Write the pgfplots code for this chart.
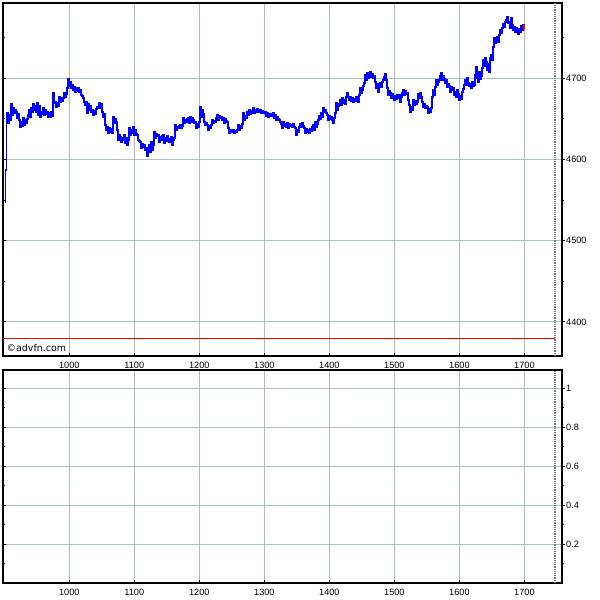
\documentclass[border=0pt]{standalone}
\usepackage{fontspec}
\setmainfont{Liberation Sans}
\newfontfamily\dejavu{DejaVu Sans}
\usepackage{pgfplots}
\usepackage{pgfplotstable}
\pgfplotsset{compat=1.18}
\definecolor{gridc}{RGB}{170,192,192}
\definecolor{nowc}{RGB}{105,120,120}

\pgfplotstableread{
x y
901.1 4547.4
901.9 4586.8
903.4 4648.3
904.2 4656.9
905.7 4644.6
907.2 4654.5
908.8 4648.3
910.3 4668.0
911.9 4654.5
913.4 4663.1
915.0 4656.9
916.5 4660.6
918.0 4658.2
919.6 4650.8
921.1 4655.7
922.6 4648.3
924.2 4639.7
925.7 4645.9
927.3 4640.9
928.8 4650.8
930.4 4642.2
931.9 4648.3
933.4 4644.6
935.0 4649.6
936.5 4654.5
938.0 4660.6
939.5 4652.0
941.0 4663.1
942.6 4658.2
944.1 4668.0
945.7 4660.6
947.2 4665.5
948.7 4658.2
950.3 4669.2
951.8 4654.5
953.3 4665.5
954.9 4652.0
956.4 4655.7
958.0 4658.2
959.5 4663.1
961.1 4654.5
962.6 4660.6
964.1 4655.7
965.7 4658.2
967.2 4652.0
968.7 4656.9
970.3 4652.0
971.8 4658.2
973.4 4653.2
974.9 4681.5
976.5 4669.2
978.0 4670.5
979.5 4664.3
981.1 4669.2
982.6 4665.5
984.1 4676.6
985.7 4670.5
987.2 4675.4
988.8 4671.7
990.3 4675.4
991.9 4681.5
993.4 4676.6
994.9 4680.3
996.5 4687.7
998.0 4698.8
999.5 4690.1
1001.1 4695.1
1002.6 4687.7
1004.2 4691.4
1005.7 4685.2
1007.3 4688.9
1008.8 4682.8
1010.3 4687.7
1011.9 4684.0
1013.4 4687.7
1014.9 4682.8
1016.4 4685.2
1017.9 4679.1
1019.5 4677.8
1021.0 4675.4
1022.6 4670.5
1024.1 4666.8
1025.6 4670.5
1027.2 4656.9
1028.7 4668.0
1030.2 4660.6
1031.8 4665.5
1033.3 4658.2
1034.9 4660.6
1036.4 4654.5
1038.0 4659.4
1039.5 4655.7
1041.0 4661.9
1042.6 4664.3
1044.1 4663.1
1045.6 4669.2
1047.2 4663.1
1048.7 4668.0
1050.3 4658.2
1051.8 4652.0
1053.4 4655.7
1054.9 4642.2
1056.4 4636.0
1058.0 4639.7
1059.5 4632.3
1061.0 4638.5
1062.6 4633.6
1064.1 4637.3
1065.7 4632.3
1067.2 4652.0
1068.8 4644.6
1070.3 4649.6
1071.8 4645.9
1073.4 4636.0
1074.9 4623.7
1076.4 4629.9
1078.0 4627.4
1079.5 4621.3
1081.1 4626.2
1082.6 4623.7
1084.2 4629.9
1085.7 4620.0
1087.2 4626.2
1088.8 4617.6
1090.3 4623.7
1091.8 4638.5
1093.3 4629.9
1094.8 4636.0
1096.4 4632.3
1097.9 4639.7
1099.5 4629.9
1101.0 4636.0
1102.5 4631.1
1104.1 4629.9
1105.6 4623.7
1107.1 4622.5
1108.7 4621.3
1110.2 4613.9
1111.8 4618.8
1113.3 4615.1
1114.9 4617.6
1116.4 4611.4
1117.9 4613.9
1119.5 4604.1
1121.0 4611.4
1122.5 4617.6
1124.1 4609.0
1125.6 4621.3
1127.2 4611.4
1128.7 4617.6
1130.3 4633.6
1131.8 4626.2
1133.3 4631.1
1134.9 4628.6
1136.4 4629.9
1137.9 4621.3
1139.5 4627.4
1141.0 4623.7
1142.6 4628.6
1144.1 4629.9
1145.7 4620.0
1147.2 4626.2
1148.7 4622.5
1150.3 4628.6
1151.8 4623.7
1153.3 4621.3
1154.9 4625.0
1156.4 4627.4
1158.0 4617.6
1159.5 4623.7
1161.1 4626.2
1162.6 4642.2
1164.1 4636.0
1165.7 4639.7
1167.2 4638.5
1168.7 4640.9
1170.2 4642.2
1171.7 4638.5
1173.3 4640.9
1174.8 4650.8
1176.4 4644.6
1177.9 4648.3
1179.4 4645.9
1181.0 4649.6
1182.5 4650.8
1184.1 4644.6
1185.6 4652.0
1187.1 4645.9
1188.7 4650.8
1190.2 4648.3
1191.8 4644.6
1193.3 4645.9
1194.8 4638.5
1196.4 4643.4
1197.9 4639.7
1199.5 4645.9
1201.0 4664.3
1202.5 4652.0
1204.1 4660.6
1205.6 4655.7
1207.2 4645.9
1208.7 4642.2
1210.2 4644.6
1211.8 4642.2
1213.3 4636.0
1214.8 4640.9
1216.4 4638.5
1217.9 4642.2
1219.5 4648.3
1221.0 4644.6
1222.6 4647.1
1224.1 4645.9
1225.6 4650.8
1227.2 4654.5
1228.7 4648.3
1230.2 4653.2
1231.8 4650.8
1233.3 4652.0
1234.9 4648.3
1236.4 4650.8
1238.0 4644.6
1239.5 4649.6
1241.0 4647.1
1242.6 4645.9
1244.1 4638.5
1245.6 4632.3
1247.1 4636.0
1248.6 4633.6
1250.2 4634.8
1251.7 4636.0
1253.3 4632.3
1254.8 4634.8
1256.3 4633.6
1257.9 4636.0
1259.4 4642.2
1260.9 4636.0
1262.5 4640.9
1264.0 4638.5
1265.6 4643.4
1267.1 4656.9
1268.7 4648.3
1270.2 4653.2
1271.7 4650.8
1273.3 4658.2
1274.8 4654.5
1276.3 4660.6
1277.9 4655.7
1279.4 4659.4
1281.0 4656.9
1282.5 4663.1
1284.1 4656.9
1285.6 4660.6
1287.1 4658.2
1288.7 4661.9
1290.2 4659.4
1291.7 4658.2
1293.3 4660.6
1294.8 4656.9
1296.4 4659.4
1297.9 4658.2
1299.5 4656.9
1301.0 4658.2
1302.5 4653.2
1304.1 4656.9
1305.6 4652.0
1307.1 4655.7
1308.7 4654.5
1310.2 4653.2
1311.8 4655.7
1313.3 4656.9
1314.9 4650.8
1316.4 4654.5
1317.9 4648.3
1319.5 4652.0
1321.0 4649.6
1322.5 4648.3
1324.0 4645.9
1325.5 4643.4
1327.1 4638.5
1328.6 4645.9
1330.2 4640.9
1331.7 4643.4
1333.2 4639.7
1334.8 4644.6
1336.3 4638.5
1337.8 4643.4
1339.4 4640.9
1340.9 4642.2
1342.5 4639.7
1344.0 4643.4
1345.6 4639.7
1347.1 4638.5
1348.6 4629.9
1350.2 4636.0
1351.7 4633.6
1353.2 4639.7
1354.8 4643.4
1356.3 4639.7
1357.9 4644.6
1359.4 4640.9
1361.0 4638.5
1362.5 4632.3
1364.0 4637.3
1365.6 4633.6
1367.1 4636.0
1368.6 4632.3
1370.2 4637.3
1371.7 4634.8
1373.3 4639.7
1374.8 4642.2
1376.4 4636.0
1377.9 4645.9
1379.4 4639.7
1381.0 4643.4
1382.5 4648.3
1384.0 4653.2
1385.6 4649.6
1387.1 4656.9
1388.7 4652.0
1390.2 4663.1
1391.8 4658.2
1393.3 4660.6
1394.8 4656.9
1396.4 4654.5
1397.9 4648.3
1399.4 4653.2
1400.9 4649.6
1402.4 4652.0
1404.0 4648.3
1405.5 4644.6
1407.1 4650.8
1408.6 4656.9
1410.1 4669.2
1411.7 4660.6
1413.2 4665.5
1414.7 4668.0
1416.3 4672.9
1417.8 4666.8
1419.4 4675.4
1420.9 4669.2
1422.5 4672.9
1424.0 4668.0
1425.5 4676.6
1427.1 4681.5
1428.6 4676.6
1430.1 4672.9
1431.7 4676.6
1433.2 4671.7
1434.8 4675.4
1436.3 4670.5
1437.9 4674.2
1439.4 4671.7
1440.9 4676.6
1442.5 4672.9
1444.0 4670.5
1445.5 4679.1
1447.1 4687.7
1448.6 4681.5
1450.2 4685.2
1451.7 4690.1
1453.3 4693.8
1454.8 4703.7
1456.3 4697.5
1457.9 4706.1
1459.4 4700.0
1460.9 4703.7
1462.5 4707.3
1464.0 4701.2
1465.6 4704.9
1467.1 4700.0
1468.7 4702.4
1470.2 4695.1
1471.7 4687.7
1473.3 4692.6
1474.8 4682.8
1476.3 4690.1
1477.8 4693.8
1479.3 4688.9
1480.9 4695.1
1482.4 4697.5
1484.0 4701.2
1485.5 4704.9
1487.0 4697.5
1488.6 4687.7
1490.1 4679.1
1491.6 4684.0
1493.2 4681.5
1494.7 4675.4
1496.3 4680.3
1497.8 4676.6
1499.4 4672.9
1500.9 4677.8
1502.4 4674.2
1504.0 4679.1
1505.5 4675.4
1507.0 4679.1
1508.6 4670.5
1510.1 4676.6
1511.7 4681.5
1513.2 4685.2
1514.8 4679.1
1516.3 4684.0
1517.8 4680.3
1519.4 4681.5
1520.9 4672.9
1522.4 4666.8
1524.0 4658.2
1525.5 4664.3
1527.1 4660.6
1528.6 4672.9
1530.2 4666.8
1531.7 4671.7
1533.2 4668.0
1534.8 4670.5
1536.3 4680.3
1537.8 4675.4
1539.4 4681.5
1540.9 4676.6
1542.5 4670.5
1544.0 4664.3
1545.6 4668.0
1547.1 4663.1
1548.6 4665.5
1550.2 4664.3
1551.7 4656.9
1553.2 4661.9
1554.7 4658.2
1556.2 4663.1
1557.8 4676.6
1559.3 4685.2
1560.9 4679.1
1562.4 4688.9
1563.9 4697.5
1565.5 4691.4
1567.0 4695.1
1568.5 4697.5
1570.1 4702.4
1571.6 4706.1
1573.2 4697.5
1574.7 4702.4
1576.3 4698.8
1577.8 4693.8
1579.3 4697.5
1580.9 4688.9
1582.4 4692.6
1583.9 4690.1
1585.5 4682.8
1587.0 4688.9
1588.6 4685.2
1590.1 4687.7
1591.7 4679.1
1593.2 4682.8
1594.7 4676.6
1596.3 4685.2
1597.8 4680.3
1599.3 4672.9
1600.9 4677.8
1602.4 4674.2
1604.0 4682.8
1605.5 4686.5
1607.1 4691.4
1608.6 4697.5
1610.1 4691.4
1611.7 4700.0
1613.2 4693.8
1614.7 4690.1
1616.3 4692.6
1617.8 4687.7
1619.4 4695.1
1620.9 4690.1
1622.5 4691.4
1624.0 4703.7
1625.5 4713.5
1627.1 4700.0
1628.6 4695.1
1630.1 4707.3
1631.6 4698.8
1633.1 4702.4
1634.7 4712.3
1636.2 4722.1
1637.8 4714.7
1639.3 4724.6
1640.8 4719.6
1642.4 4709.8
1643.9 4717.2
1645.4 4707.3
1647.0 4724.6
1648.5 4728.3
1650.1 4722.1
1651.6 4738.1
1653.2 4749.2
1654.7 4743.0
1656.2 4746.7
1657.8 4750.4
1659.3 4744.2
1660.8 4752.9
1662.4 4759.0
1663.9 4755.3
1665.5 4761.5
1667.0 4766.4
1668.6 4762.7
1670.1 4768.8
1671.6 4771.3
1673.2 4775.0
1674.7 4767.6
1676.2 4768.8
1677.8 4761.5
1679.3 4773.8
1680.9 4765.2
1682.4 4759.0
1684.0 4762.7
1685.5 4756.5
1687.0 4761.5
1688.6 4757.8
1690.1 4754.1
1691.6 4760.2
1693.2 4756.5
1694.7 4763.9
1696.3 4759.0
1697.8 4765.2
1699.3 4762.7
}\pricedata

\begin{document}
\begin{tikzpicture}
\path[use as bounding box] (0,0) rectangle (600bp,600bp);
\pgfplotsset{
  panel/.style={
    scale only axis, width=559bp, anchor=south west,
    xmin=898, xmax=1757.8,
    xtick={1000,1100,1200,1300,1400,1500,1600,1700},
    /pgf/number format/1000 sep={},
    /pgf/number format/assume math mode=true,
    axis line style={line width=1.1bp, black},
    tick style={line width=0.8bp, black},
    major tick length=3bp, minor tick length=2bp,
    xtick pos=left, ytick pos=right,
    xtick align=inside, ytick align=outside,
    yticklabel pos=right,
    grid=major,
    major grid style={gridc, line width=0.8bp},
    minor grid style={draw=none},
    tick label style={font=\fontsize{9.2}{11}\selectfont, inner sep=0pt},
    xticklabel style={anchor=north, yshift=-5.5bp},
    yticklabel style={anchor=west, xshift=1bp},
  },
  leftticks/.style={
    scale only axis, width=559bp, anchor=south west,
    xmin=898, xmax=1757.8,
    axis line style={draw=none},
    xtick=\empty, ytick pos=left, ytick align=inside,
    yticklabels={}, 
    tick style={line width=0.8bp, black},
    major tick length=3bp, minor tick length=2bp,
  }
}
% top panel
\begin{axis}[panel, at={(3bp,244bp)}, height=353bp,
  ymin=4358, ymax=4792.2,
  ytick={4400,4500,4600,4700},
  minor ytick={4450,4550,4650,4750}]
  \addplot[red, line width=1bp, mark=none] coordinates {(898,4379) (1747,4379)};
  \addplot[nowc, line width=1.2bp, dash pattern=on 1.2bp off 1bp, mark=none] coordinates {(1747,4358) (1747,4792.2)};
  \addplot[blue, line width=1.2bp, const plot, mark=none] table[x=x, y=y] {\pricedata};
  \addplot[red, line width=1.2bp, mark=none] coordinates {(1699.3,4765.5) (1699.3,4759.5)};
\end{axis}
\begin{axis}[leftticks, at={(3bp,244bp)}, height=353bp,
  ymin=4358, ymax=4792.2,
  ytick={4400,4500,4600,4700},
  minor ytick={4450,4550,4650,4750}]
\end{axis}
% bottom panel
\begin{axis}[panel, at={(3bp,17bp)}, height=213bp,
  ymin=0, ymax=1.094,
  ytick={0.2,0.4,0.6,0.8,1},
  minor ytick={0.1,0.3,0.5,0.7,0.9},
  yticklabels={0.2,0.4,0.6,0.8,1}]
  \addplot[nowc, line width=1.2bp, dash pattern=on 1.2bp off 1bp, mark=none] coordinates {(1747,0) (1747,1.094)};
\end{axis}
\begin{axis}[leftticks, at={(3bp,17bp)}, height=213bp,
  ymin=0, ymax=1.094,
  ytick={0.2,0.4,0.6,0.8,1},
  minor ytick={0.1,0.3,0.5,0.7,0.9}]
\end{axis}
\node[anchor=west, inner sep=0pt, font=\dejavu\fontsize{9.5}{11}\selectfont] at (6.5bp,252bp) {©advfn.com};
\end{tikzpicture}
\end{document}
